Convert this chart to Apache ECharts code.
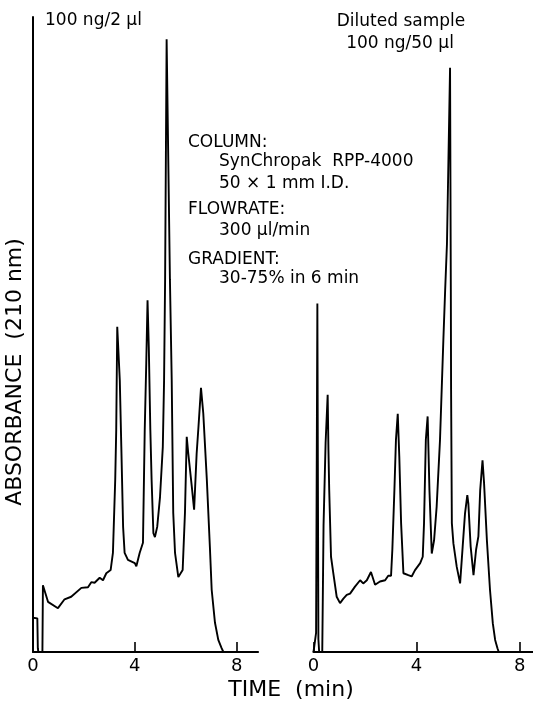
<!DOCTYPE html>
<html>
<head>
<meta charset="utf-8">
<script src="https://cdn.jsdelivr.net/npm/echarts@6/dist/echarts.min.js"></script>
<style>
html,body{margin:0;padding:0;background:#fff;}
#chart{width:533px;height:701px;}
</style>
</head>
<body>
<div id="chart"></div>
<script>
// Left chromatogram: 100 ng / 2 µl
var leftTime = [0,0.04,0.17,0.19,0.21,0.37,0.39,0.59,0.98,1.24,1.50,1.90,2.16,2.29,2.42,2.62,2.75,2.88,3.05,3.14,3.23,3.27,3.31,3.41,3.47,3.54,3.60,3.73,4.00,4.06,4.19,4.32,4.39,4.45,4.50,4.55,4.61,4.66,4.73,4.79,4.88,4.99,5.10,5.15,5.19,5.25,5.38,5.45,5.51,5.58,5.71,5.78,5.88,5.97,6.04,6.10,6.24,6.33,6.43,6.50,6.60,6.69,6.83,6.95,7.02,7.15,7.28,7.41,7.48];
var leftAbs  = [5.4,5.6,5.3,0.6,0,0,10.5,7.9,6.9,8.3,8.7,10.1,10.2,11.0,10.9,11.7,11.3,12.4,12.9,15.6,27.1,35.0,51.2,42.8,32.3,19.7,15.6,14.5,14.0,13.5,15.6,17.2,35.0,45.5,55.4,48.0,35.0,27.1,18.7,18.1,19.7,24.4,32.3,42.8,58.6,96.5,58.6,42.8,21.9,15.6,11.8,11.5,12.9,21.9,33.9,31.3,26.0,22.4,31.3,35.4,41.6,37.6,27.1,16.5,9.8,4.6,1.9,0.6,0];

// Right chromatogram: diluted sample 100 ng / 50 µl
var rightTime = [0,0.10,0.15,0.19,0.22,0.34,0.39,0.47,0.55,0.58,0.61,0.68,0.77,0.90,1.03,1.16,1.29,1.42,1.61,1.81,1.93,2.07,2.23,2.39,2.58,2.78,2.90,3.01,3.06,3.14,3.20,3.27,3.33,3.40,3.49,3.68,3.81,3.94,4.14,4.24,4.29,4.36,4.43,4.50,4.59,4.68,4.78,4.91,5.04,5.11,5.18,5.30,5.33,5.34,5.37,5.43,5.56,5.69,5.79,5.88,5.97,6.01,6.10,6.21,6.31,6.40,6.47,6.56,6.62,6.73,6.85,6.96,7.05,7.14,7.19];
var rightAbs  = [0,3,54.9,2,0,0,20,33,40.5,31.8,25.5,15.0,12.4,8.7,7.7,8.4,9.0,9.2,10.3,11.3,10.8,11.3,12.6,10.6,11.1,11.3,12.0,12.0,16.1,25.5,33.4,37.5,30.8,20.3,12.4,12.1,11.9,12.9,14.0,15.0,20.3,33.4,37.1,25.5,15.5,17.6,22.9,33.4,49.1,57.0,64.3,92.0,57.0,41.3,20.3,17.1,13.4,10.8,16.6,21.8,24.7,23.4,16.6,12.1,16.1,18.2,25.5,30.2,26.6,17.6,9.8,4.5,1.9,0.6,0];

var tickValues = [0, 4, 8];

function pairs(t, v) {
  var out = [];
  for (var i = 0; i < t.length; i++) out.push([t[i], v[i]]);
  return out;
}

var FONT = 'DejaVu Sans';
var chart = echarts.init(document.getElementById('chart'), null, {renderer: 'canvas'});

function xAx(gi, maxV) {
  return {
    type: 'value', gridIndex: gi, min: 0, max: maxV,
    axisLine: {show: true, onZero: false, lineStyle: {color: '#000', width: 2.2}},
    axisTick: {show: true, inside: true, length: 10, customValues: tickValues, lineStyle: {color: '#000', width: 1.6}},
    axisLabel: {show: true, customValues: tickValues, color: '#000', fontSize: 18, fontFamily: FONT, margin: 5},
    splitLine: {show: false}
  };
}
function yAx(gi, showLine) {
  return {
    type: 'value', gridIndex: gi, min: 0, max: 100,
    axisLine: {show: showLine, lineStyle: {color: '#000', width: 2}},
    axisTick: {show: false}, axisLabel: {show: false}, splitLine: {show: false}
  };
}

var txt = function (text, x, y, size, align) {
  return {type: 'text', style: {text: text, x: x, y: y, fill: '#000', font: size + 'px "' + FONT + '"', textAlign: align || 'left', textVerticalAlign: 'middle'}};
};

var option = {
  animation: false,
  backgroundColor: '#fff',
  grid: [
    {left: 33, top: 17, width: 225, height: 635},
    {left: 313.5, top: 17, width: 219, height: 635}
  ],
  xAxis: [xAx(0, 8.84), xAx(1, 8.5)],
  yAxis: [yAx(0, true), yAx(1, false)],
  series: [
    {type: 'line', xAxisIndex: 0, yAxisIndex: 0, data: pairs(leftTime, leftAbs), showSymbol: false, lineStyle: {color: '#000', width: 1.9}},
    {type: 'line', xAxisIndex: 1, yAxisIndex: 1, data: pairs(rightTime, rightAbs), showSymbol: false, lineStyle: {color: '#000', width: 1.9}}
  ],
  graphic: [
    txt('100 ng/2 \u00b5l', 45, 21, 17),
    txt('Diluted sample', 401, 22, 17, 'center'),
    txt('100 ng/50 \u00b5l', 400, 44, 17, 'center'),
    txt('COLUMN:', 188, 143, 17),
    txt('SynChropak  RPP-4000', 219, 162, 17),
    txt('50 \u00d7 1 mm I.D.', 219, 184, 17),
    txt('FLOWRATE:', 188, 210, 17),
    txt('300 \u00b5l/min', 219, 231, 17),
    txt('GRADIENT:', 188, 260, 17),
    txt('30-75% in 6 min', 219, 279, 17),
    txt('TIME  (min)', 291, 690, 22, 'center'),
    {type: 'text', x: 15, y: 372, rotation: Math.PI / 2,
     style: {text: 'ABSORBANCE  (210 nm)', x: 0, y: 0, fill: '#000', font: '22px "' + FONT + '"', textAlign: 'center', textVerticalAlign: 'middle'}}
  ]
};
chart.setOption(option);
</script>
</body>
</html>
